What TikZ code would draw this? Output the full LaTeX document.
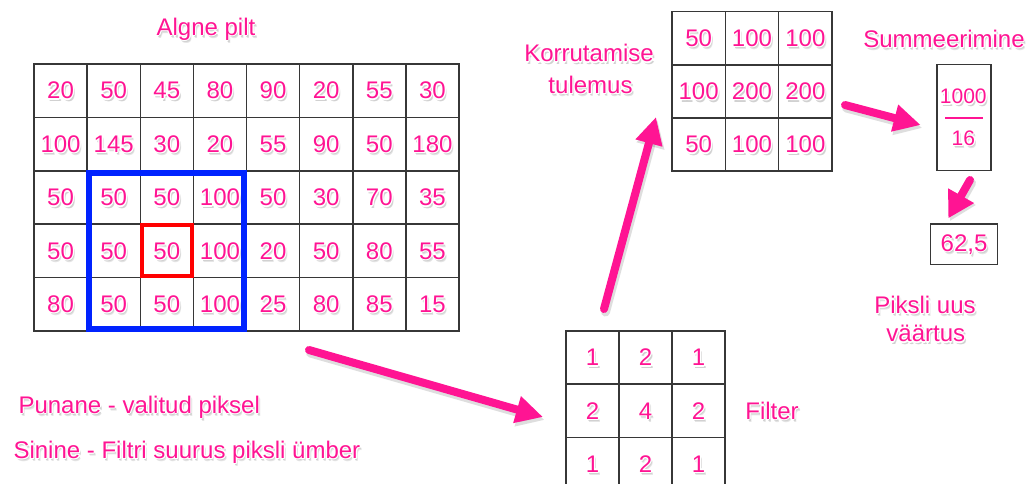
\documentclass[tikz,border=0pt]{standalone}
\usepackage{fontspec}
\setmainfont{Liberation Sans}
\usetikzlibrary{arrows.meta,calc}
\definecolor{pk}{RGB}{255,20,147}
\definecolor{bl}{RGB}{0,35,255}
\definecolor{rd}{RGB}{255,0,0}
\definecolor{gl}{RGB}{55,55,55}
\newsavebox\glowbox
\newcommand\glowcopy[3]{\rlap{\smash{\kern#1\raisebox{#2}{\color{#3}\usebox\glowbox}}}}
\newcommand\glow[1]{\setbox\glowbox\hbox{#1}%
  \glowcopy{2pt}{-3pt}{black!10}%
  \glowcopy{1.5pt}{-2.4pt}{black!18}%
  \glowcopy{-1.3pt}{0pt}{white}\glowcopy{1.3pt}{0pt}{white}%
  \glowcopy{0pt}{1.3pt}{white}\glowcopy{0pt}{-1.3pt}{white}%
  \glowcopy{0.9pt}{0.9pt}{white}\glowcopy{-0.9pt}{0.9pt}{white}%
  \glowcopy{0.9pt}{-0.9pt}{white}\glowcopy{-0.9pt}{-0.9pt}{white}%
  \usebox\glowbox}
\begin{document}
\begin{tikzpicture}[x=1pt,y=-1pt,
  lbl/.style={text=pk, font=\fontsize{24}{28}\selectfont, inner sep=0pt},
  cellbase/.style={draw=gl, line width=1.5pt, text=pk, font=\fontsize{24}{28}\selectfont, inner sep=0pt},
  mcell/.style={cellbase, minimum width=53.125pt, minimum height=53.4pt},
  rcell/.style={cellbase, minimum width=53.33pt, minimum height=53.1pt},
  fcell/.style={cellbase, minimum width=53pt, minimum height=53.2pt},
  box/.style={draw=gl, line width=1.5pt, inner sep=0pt},
  arr/.style={draw=pk, line width=8pt, line cap=round, -{Triangle[length=27pt,width=26pt]}},
  arrshadow/.style={draw=black, opacity=0.13, line width=9pt, line cap=round, -{Triangle[length=27pt,width=27pt]}},
  selbox/.style={draw=bl, line width=6pt},
  pixbox/.style={draw=rd, line width=4pt}
]
\useasboundingbox (0,0) rectangle (1030,483);
\clip (0,0) rectangle (1030,483);

% main image grid
\foreach \row [count=\r] in {{20,50,45,80,90,20,55,30},{100,145,30,20,55,90,50,180},{50,50,50,100,50,30,70,35},{50,50,50,100,20,50,80,55},{80,50,50,100,25,80,85,15}} {
  \foreach \v [count=\c] in \row {
    \node[mcell] (m-\r-\c) at ({34+53.125*(\c-0.5)},{64+53.4*(\r-0.5)}) {\glow{\v}};
  }
}
\draw[selbox] ($(m-3-2.north west)+(3,3)$) rectangle ($(m-5-4.south east)+(-3,-3)$);
\draw[pixbox] ($(m-4-3.north west)+(2,2)$) rectangle ($(m-4-3.south east)+(-2,-2)$);

% multiplication result grid
\foreach \row [count=\r] in {{50,100,100},{100,200,200},{50,100,100}} {
  \foreach \v [count=\c] in \row {
    \node[rcell] (r-\r-\c) at ({672+53.33*(\c-0.5)},{11.7+53.1*(\r-0.5)}) {\glow{\v}};
  }
}

% filter grid
\foreach \row [count=\r] in {{1,2,1},{2,4,2},{1,2,1}} {
  \foreach \v [count=\c] in \row {
    \node[fcell] (f-\r-\c) at ({566+53*(\c-0.5)},{331+53.2*(\r-0.5)}) {\glow{\v}};
  }
}

% sum box
\node[box, minimum width=54pt, minimum height=106.4pt] (sumbox) at (964,117.5) {};
\node[lbl, font=\fontsize{21}{25}\selectfont] (sumnum) at (963.3,96.7) {\glow{1000}};
\node[lbl, font=\fontsize{21}{25}\selectfont] (sumden) at (963.3,138.3) {\glow{16}};
\draw[pk, line width=2pt] (945,118.3) -- (982.7,118.3);

% result box
\node[box, minimum width=66.6pt, minimum height=40.3pt, text=pk, font=\fontsize{24}{28}\selectfont] (res) at (964,244.2) {\glow{62,5}};

% labels
\node[lbl, anchor=base] (title) at (206,35) {\glow{Algne pilt}};
\node[lbl, anchor=base] (kor1) at (589,61.7) {\glow{Korrutamise}};
\node[lbl, anchor=base] (kor2) at (590.5,93.3) {\glow{tulemus}};
\node[lbl, anchor=base] (summ) at (944,47.3) {\glow{Summeerimine}};
\node[lbl, anchor=base] (filt) at (772,419) {\glow{Filter}};
\node[lbl, anchor=base] (piks1) at (925,313.3) {\glow{Piksli uus}};
\node[lbl, anchor=base] (piks2) at (925.8,341.7) {\glow{väärtus}};
\node[lbl, anchor=base west] (punane) at (18.3,413) {\glow{Punane - valitud piksel}};
\node[lbl, anchor=base west] (sinine) at (13.3,458.3) {\glow{Sinine - Filtri suurus piksli ümber}};

% arrows
\coordinate (aS) at (309,350);  \coordinate (aE) at (543,417);
\coordinate (bS) at (604,309);  \coordinate (bE) at (656,117);
\coordinate (cS) at (845,105);  \coordinate (cE) at (920.7,125);
\coordinate (dS) at (970,180);  \coordinate (dE) at (948.3,218.3);
\draw[arrshadow] ($(aS)+(1.5,3)$) -- ($(aE)+(1.5,3)$);
\draw[arrshadow] ($(bS)+(1.5,3)$) -- ($(bE)+(1.5,3)$);
\draw[arrshadow] ($(cS)+(1.5,3)$) -- ($(cE)+(1.5,3)$);
\draw[arrshadow] ($(dS)+(1.5,3)$) -- ($(dE)+(1.5,3)$);
\draw[arr] (aS) -- (aE);
\draw[arr] (bS) -- (bE);
\draw[arr] (cS) -- (cE);
\draw[arr, -{Triangle[length=26pt,width=28pt]}] (dS) -- (dE);
\end{tikzpicture}
\end{document}
